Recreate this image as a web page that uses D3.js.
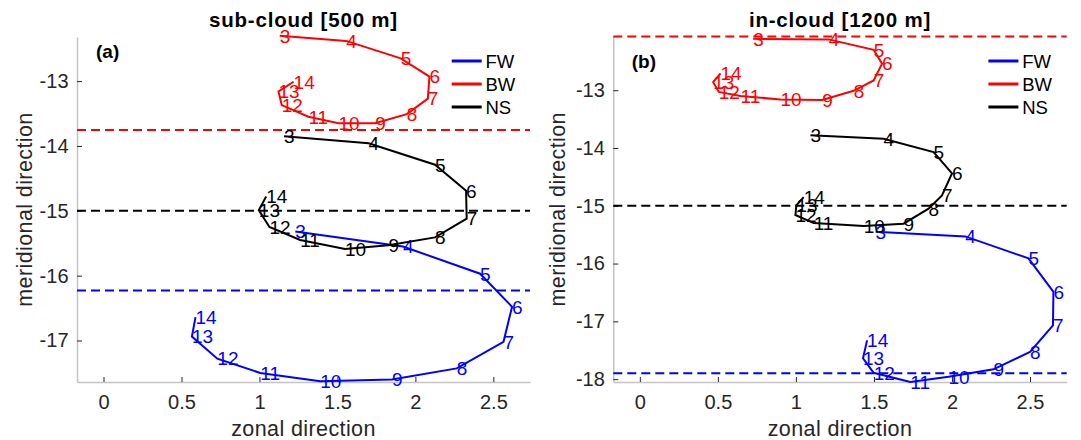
<!DOCTYPE html>
<head>
    <meta charset="utf-8">
    <script src="https://d3js.org/d3.v7.min.js"></script>
    <style>
      body { margin: 0; background: #fff; }
      text { font-family: "Liberation Sans", Arial, Helvetica, sans-serif; }
      .tick text { font-size: 20px; fill: #262626; }
      .tick line { stroke: #262626; }
      .domain { stroke: #c4c4c4; stroke-width: 1.5; }
      .axlabel { font-size: 21.5px; fill: #262626; letter-spacing: 0.4px; }
      .charttitle { font-size: 20.5px; font-weight: bold; letter-spacing: 0.8px; }
      .panel { font-size: 19px; font-weight: bold; }
      .num { font-size: 19px; }
      .legtext { font-size: 18.5px; fill: #000; }
    </style>
<body>
    <script>
        // hour labels along each trajectory
        var hours = [3,4,5,6,7,8,9,10,11,12,13,14]
        var seriesNames = ["FW","BW","NS"]
        var seriesColors = ["#0000ff","#ff0000","#000000"]

        // sub-cloud [500 m]
        var subFWx = [1.23,1.92,2.415,2.62,2.565,2.265,1.85,1.39,1.005,0.73,0.567,0.59]
        var subFWy = [-15.32,-15.55,-15.97,-16.48,-17.02,-17.43,-17.60,-17.63,-17.50,-17.28,-16.94,-16.64]
        var subBWx = [1.13,1.556,1.906,2.09,2.08,1.945,1.742,1.507,1.314,1.143,1.122,1.219]
        var subBWy = [-12.30,-12.38,-12.65,-12.93,-13.27,-13.51,-13.65,-13.65,-13.55,-13.37,-13.16,-13.01]
        var subNSx = [1.158,1.70,2.126,2.325,2.329,2.126,1.827,1.549,1.261,1.064,0.996,1.043]
        var subNSy = [-13.85,-13.96,-14.29,-14.69,-15.12,-15.41,-15.53,-15.59,-15.45,-15.25,-14.99,-14.78]
        var subRef = [-16.23,-13.755,-15]

        // in-cloud [1200 m]
        var inFWx = [1.51,2.085,2.49,2.65,2.647,2.50,2.266,1.978,1.733,1.498,1.43,1.456]
        var inFWy = [-15.45,-15.53,-15.91,-16.49,-17.07,-17.53,-17.83,-17.96,-18.05,-17.89,-17.64,-17.33]
        var inBWx = [0.726,1.21,1.498,1.552,1.498,1.37,1.168,0.901,0.645,0.506,0.47,0.517]
        var inBWy = [-12.11,-12.12,-12.30,-12.54,-12.83,-13.01,-13.17,-13.16,-13.10,-13.03,-12.86,-12.71]
        var inNSx = [1.093,1.562,1.882,2.0,1.936,1.85,1.69,1.434,1.114,0.997,1.003,1.05]
        var inNSy = [-13.78,-13.84,-14.07,-14.44,-14.82,-15.05,-15.31,-15.35,-15.30,-15.16,-14.99,-14.85]
        var inRef = [-17.90,-12.07,-15]

        var xTicks = [0,0.5,1,1.5,2,2.5]
        var xDomain = [-0.17,2.735]

        var svg = d3.select("body").append("svg")
          .attr("width", 1081).attr("height", 440)

        var panels = [
          {title:"sub-cloud [500 m]", tag:"(a)", left:77, right:530, top:37, bottom:382,
           yDomain:[-17.64,-12.32], yTicks:[-17,-16,-15,-14,-13], ylabX:32, tagDx:19, tagY:58,
           xs:[subFWx,subBWx,subNSx], ys:[subFWy,subBWy,subNSy], ref:subRef},
          {title:"in-cloud [1200 m]", tag:"(b)", left:613.3, right:1066.7, top:36.5, bottom:382,
           yDomain:[-18.05,-12.07], yTicks:[-18,-17,-16,-15,-14,-13], ylabX:565, tagDx:18.5, tagY:68,
           xs:[inFWx,inBWx,inNSx], ys:[inFWy,inBWy,inNSy], ref:inRef}
        ]

        panels.forEach(function(p){
          var x = d3.scaleLinear().domain(xDomain).range([p.left, p.right])
          var y = d3.scaleLinear().domain(p.yDomain).range([p.bottom, p.top])
          var g = svg.append("g")

          g.append("g")
            .attr("transform", "translate(0,"+p.bottom+")")
            .call(d3.axisBottom(x).tickValues(xTicks).tickFormat(function(d){return String(d)})
              .tickSizeInner(-5).tickSizeOuter(0).tickPadding(13))
          g.append("g")
            .attr("transform", "translate("+p.left+",0)")
            .call(d3.axisLeft(y).tickValues(p.yTicks).tickFormat(function(d){return String(d)})
              .tickSizeInner(-5).tickSizeOuter(0).tickPadding(8.5))
          g.selectAll(".tick text").attr("font-family", null).attr("font-size", null)
          g.selectAll(".tick line").attr("stroke", "#262626")

          // dashed reference lines
          p.ref.forEach(function(r, i){
            g.append("line")
              .attr("x1", p.left).attr("x2", p.right)
              .attr("y1", y(r)).attr("y2", y(r))
              .attr("stroke", seriesColors[i]).attr("stroke-width", 2)
              .attr("stroke-dasharray", "9,5")
          })

          // trajectories
          var line = d3.line().x(function(d){return x(d[0])}).y(function(d){return y(d[1])})
          seriesNames.forEach(function(s, i){
            var pts = p.xs[i].map(function(v, k){return [v, p.ys[i][k]]})
            g.append("path").datum(pts)
              .attr("d", line).attr("fill", "none")
              .attr("stroke", seriesColors[i]).attr("stroke-width", 2)
            g.selectAll(".num"+s).data(pts).enter().append("text")
              .attr("class", "num")
              .attr("x", function(d){return x(d[0])})
              .attr("y", function(d){return y(d[1])})
              .attr("dy", "0.36em")
              .attr("fill", seriesColors[i])
              .text(function(d, k){return hours[k]})
          })

          // legend
          var lg = g.append("g")
          seriesNames.forEach(function(s, i){
            var ly = [61,84,107][i]
            lg.append("line")
              .attr("x1", p.right-78.3).attr("x2", p.right-48.3)
              .attr("y1", ly).attr("y2", ly)
              .attr("stroke", seriesColors[i]).attr("stroke-width", 3)
            lg.append("text").attr("class", "legtext")
              .attr("x", p.right-44.5).attr("y", ly).attr("dy", "0.36em")
              .text(s)
          })

          g.append("text").attr("class", "charttitle")
            .attr("x", (p.left+p.right)/2).attr("y", 27)
            .attr("text-anchor", "middle").text(p.title)
          g.append("text").attr("class", "panel")
            .attr("x", p.left+p.tagDx).attr("y", p.tagY).text(p.tag)
          g.append("text").attr("class", "axlabel")
            .attr("x", (p.left+p.right)/2).attr("y", 436)
            .attr("text-anchor", "middle").text("zonal direction")
          g.append("text").attr("class", "axlabel")
            .attr("transform", "translate("+p.ylabX+","+((p.top+p.bottom)/2)+") rotate(-90)")
            .attr("text-anchor", "middle").text("meridional direction")
        })
    </script>
</body>
